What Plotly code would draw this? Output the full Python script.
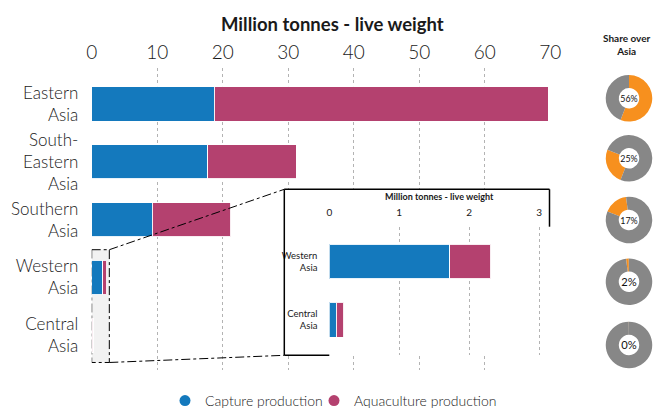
import plotly.graph_objects as go

W, H = 653, 408

# ---------------- data ----------------
regions = ["Eastern<br>Asia", "South-<br>Eastern<br>Asia", "Southern<br>Asia",
           "Western<br>Asia", "Central<br>Asia"]
capture = [18.7, 17.75, 9.25, 1.72, 0.10]
aquaculture = [51.0, 13.45, 11.95, 0.59, 0.11]
main_ticks = [0, 10, 20, 30, 40, 50, 60, 70]
inset_ticks = [0, 1, 2, 3]
series_names = ["Capture production", "Aquaculture production"]
axis_title = "Million tonnes - live weight"
share_title = "Share over<br>Asia"

BLUE = "#1479bd"
MAG = "#b4416f"
ORANGE = "#f7901e"
GREY = "#878787"
TXT = "#1a1a1a"
GRID = "#b3b3b3"
FONT = "Lato"


def px(x):
    return x / W


def py(y):
    return 1 - y / H


totals = [c + a for c, a in zip(capture, aquaculture)]
shares = [t / sum(totals) * 100 for t in totals]

# main plot geometry (screen pixels)
MX0, MX1 = 91.7, 550.2
MY0, MY1 = 68, 370
XR = [0, 70]
YR = [4.6, -0.622]

# inset geometry
IX0, IX1 = 329.3, 549.0
IY0, IY1 = 226.7, 355.0
IXR = [0, 3.14]
IYR = [1.607, -0.598]

# box
BX0, BX1 = 284.3, 549.5
BY0, BY1 = 189.3, 355.3

fig = go.Figure()

bar_line = dict(color="rgba(255,255,255,0.9)", width=1)
fig.add_trace(go.Bar(y=regions, x=capture, orientation="h", marker=dict(color=BLUE, line=bar_line),
                     width=0.59, showlegend=False, xaxis="x", yaxis="y", hoverinfo="x+y"))
fig.add_trace(go.Bar(y=regions, x=aquaculture, orientation="h", marker=dict(color=MAG, line=bar_line),
                     width=0.59, showlegend=False, xaxis="x", yaxis="y", hoverinfo="x+y"))

# dummy white box subplot (covers main gridlines)
fig.add_trace(go.Scatter(x=[None], y=[None], xaxis="x2", yaxis="y2", showlegend=False, hoverinfo="skip"))

# inset
inset_regions = regions[3:]
fig.add_trace(go.Bar(y=inset_regions, x=capture[3:], orientation="h", marker=dict(color=BLUE, line=bar_line),
                     width=0.6, showlegend=False, xaxis="x3", yaxis="y3"))
fig.add_trace(go.Bar(y=inset_regions, x=aquaculture[3:], orientation="h", marker=dict(color=MAG, line=bar_line),
                     width=0.6, showlegend=False, xaxis="x3", yaxis="y3"))

# legend entries (two legends so that their spacing can be set)
for nm, col, lg in zip(series_names, [BLUE, MAG], ["legend", "legend2"]):
    fig.add_trace(go.Scatter(x=[None], y=[None], mode="markers", name=nm, legend=lg,
                             marker=dict(color=col, size=11, symbol="circle"),
                             xaxis="x", yaxis="y"))

# donuts
pie_cy = [98.3, 158.3, 220.0, 281.7, 345.0]
pie_cx, pie_r = 629.0, 23.25
cum = 0.0
for s, cy in zip(shares, pie_cy):
    fig.add_trace(go.Pie(
        values=[s, 100 - s], labels=["share", "rest"], sort=False,
        direction="clockwise", rotation=cum * 3.6, hole=0.44,
        marker=dict(colors=[ORANGE, GREY], line=dict(width=0)),
        textinfo="none", hoverinfo="skip", showlegend=False,
        title=dict(text=f"{round(s):d}%", position="middle center",
                   font=dict(family=FONT, size=12.5, color="#111")),
        domain=dict(x=[px(pie_cx - pie_r), px(pie_cx + pie_r)],
                    y=[py(cy + pie_r), py(cy - pie_r)]),
    ))
    cum += s

grid_kw = dict(showgrid=True, gridcolor=GRID, gridwidth=1, griddash="3px,3px", zeroline=False,
               automargin=False)

leg_common = dict(orientation="h", yanchor="middle", y=py(401), xanchor="left",
                  font=dict(size=14, family=FONT, color=TXT, weight=300),
                  itemwidth=30, bgcolor="rgba(0,0,0,0)", borderwidth=0)

fig.update_layout(
    width=W, height=H,
    margin=dict(l=0, r=0, t=0, b=0, pad=0, autoexpand=False),
    paper_bgcolor="white", plot_bgcolor="white",
    barmode="stack", bargap=0.41,
    font=dict(family=FONT, color=TXT),
    xaxis=dict(domain=[px(MX0), px(MX1)], range=XR, side="top", anchor="y",
               tickvals=main_ticks, ticks="", ticklabelstandoff=4,
               tickfont=dict(size=19, family=FONT, color=TXT, weight=300),
               showline=False, fixedrange=True, **grid_kw),
    yaxis=dict(domain=[py(MY1), py(MY0)], range=YR, type="category",
               categoryorder="array", categoryarray=regions, anchor="x",
               ticks="outside", ticklen=9, tickcolor="rgba(0,0,0,0)",
               tickfont=dict(size=17, family=FONT, color=TXT, weight=300),
               showgrid=False, zeroline=False, showline=False, fixedrange=True, automargin=False),
    xaxis2=dict(domain=[px(BX0), px(BX1)], range=[0, 1], anchor="y2", automargin=False,
                showgrid=False, zeroline=False, showticklabels=False, showline=False, ticks=""),
    yaxis2=dict(domain=[py(BY1), py(BY0)], range=[0, 1], anchor="x2", automargin=False,
                showgrid=False, zeroline=False, showticklabels=False, showline=False, ticks=""),
    xaxis3=dict(domain=[px(IX0), px(IX1)], range=IXR, side="top", anchor="y3",
                tickvals=inset_ticks, ticks="", ticklabelstandoff=8,
                tickfont=dict(size=10, family=FONT, color=TXT),
                showline=False, fixedrange=True, **grid_kw),
    yaxis3=dict(domain=[py(IY1), py(IY0)], range=IYR, type="category",
                categoryorder="array", categoryarray=inset_regions, anchor="x3",
                ticks="outside", ticklen=9, tickcolor="rgba(0,0,0,0)",
                tickfont=dict(size=9.5, family=FONT, color=TXT),
                showgrid=False, zeroline=False, showline=False, fixedrange=True, automargin=False),
    legend=dict(x=px(165), **leg_common),
    legend2=dict(x=px(314), **leg_common),
)

# annotations: titles
fig.add_annotation(text=f"<b>{axis_title}</b>", x=px(332.7), y=py(24), xref="paper", yref="paper",
                   showarrow=False, xanchor="center", yanchor="middle",
                   font=dict(size=18.5, family=FONT, color=TXT))
fig.add_annotation(text=f"<b>{axis_title}</b>", x=px((IX0 + IX1) / 2), y=py(196), xref="paper", yref="paper",
                   showarrow=False, xanchor="center", yanchor="middle",
                   font=dict(size=9, family=FONT, color=TXT))
fig.add_annotation(text=f"<b>{share_title}</b>", x=px(627), y=py(44), xref="paper", yref="paper",
                   showarrow=False, xanchor="center", yanchor="middle",
                   font=dict(size=10, family=FONT, color=TXT))

# zoom rectangle on the main chart (data coords)
zx1 = 2.69
zy0, zy1 = 2.52, 4.47
fig.add_shape(type="rect", xref="x", yref="y", x0=0, x1=zx1, y0=zy0, y1=zy1,
              fillcolor="#f2f2f2", line=dict(color="black", width=1, dash="dashdot"), layer="below")


def dx_to_px(v):
    return MX0 + (v - XR[0]) / (XR[1] - XR[0]) * (MX1 - MX0)


def dy_to_px(v):
    return MY0 + (v - YR[1]) / (YR[0] - YR[1]) * (MY1 - MY0)


rx = dx_to_px(zx1)
ry0, ry1 = dy_to_px(zy0), dy_to_px(zy1)
line_dd = dict(color="black", width=1, dash="dashdot")
fig.add_shape(type="line", xref="paper", yref="paper", x0=px(rx), y0=py(ry0), x1=px(BX0), y1=py(BY0),
              line=line_dd, layer="above")
fig.add_shape(type="line", xref="paper", yref="paper", x0=px(rx), y0=py(ry1), x1=px(BX0), y1=py(BY1),
              line=line_dd, layer="above")

# inset box border (partially hidden by the inset plot area)
solid = dict(color="black", width=1.5)
for (x0, y0, x1, y1) in [(BX0, BY0, BX0, BY1), (BX0, BY0, BX1, BY0), (BX1, BY0, BX1, IY0),
                         (BX0, BY1, IX0, BY1)]:
    fig.add_shape(type="line", xref="paper", yref="paper", x0=px(x0), y0=py(y0), x1=px(x1), y1=py(y1),
                  line=solid, layer="above")

fig.write_html("out.html",
               config={"displayModeBar": False, "staticPlot": True},
               post_script="document.body.style.margin='0';document.body.style.overflow='hidden';")
